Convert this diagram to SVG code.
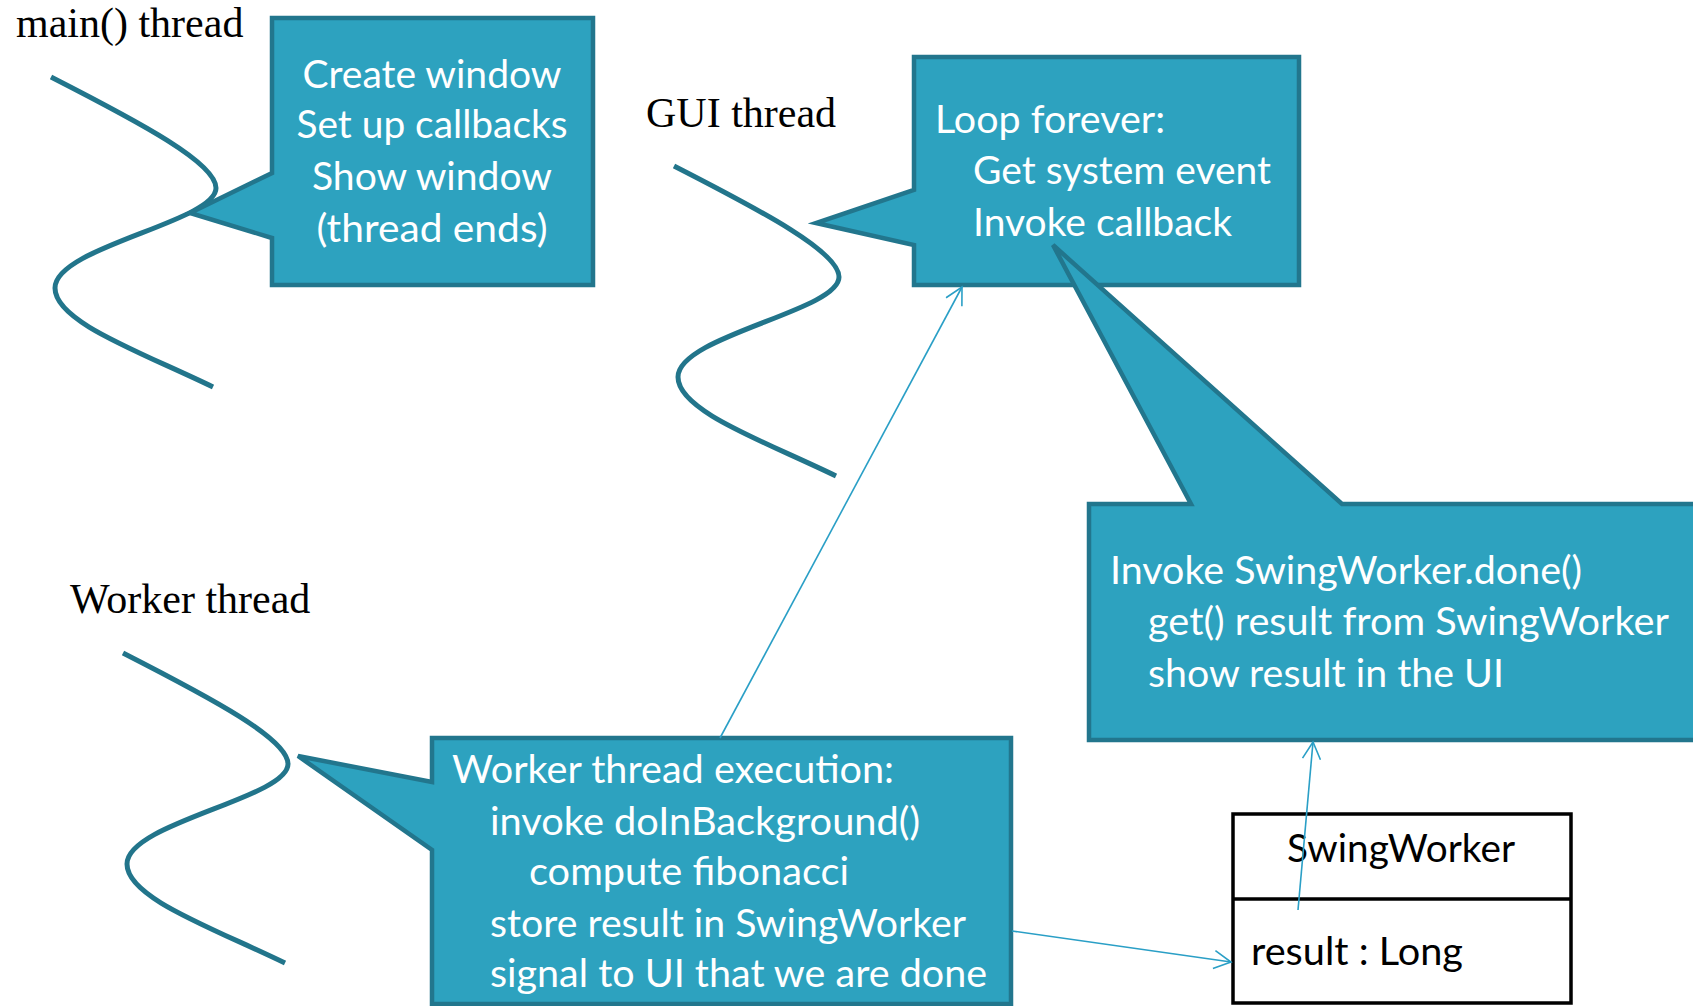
<svg xmlns="http://www.w3.org/2000/svg" width="1693" height="1006" viewBox="0 0 1693 1006">
<style>
.lbl{font-family:"Liberation Serif","Times New Roman",serif;font-size:42px;fill:#000}
.bx{fill:#2da2bf;stroke:#22768d;stroke-width:4.5;stroke-linejoin:miter}
.bt{font-family:Lato,"Noto Sans",sans-serif;font-size:39px;fill:#fff}
.ct{font-family:Lato,"Noto Sans",sans-serif;font-size:39px;fill:#000}
.thr{fill:none;stroke:#22758b;stroke-width:5}
.con{fill:none;stroke:#2a9fc6;stroke-width:1.6}
.cls{fill:#fff;stroke:#000;stroke-width:3.5}
</style>
<defs>
<path id="wave" d="M0,0 C90,46 165,86 165,111 C165,145 4,170 4,211 C4,245 90,275 162,310"/>
<marker id="open" viewBox="0 0 20 20" refX="18" refY="10" markerWidth="20" markerHeight="20" markerUnits="userSpaceOnUse" orient="auto">
<path d="M1,1 L18,10 L1,19" fill="none" stroke="#2a9fc6" stroke-width="1.6"/>
</marker>
</defs>
<rect width="1693" height="1006" fill="#fff"/>

<g id="main-thread">
<text class="lbl" x="16" y="37">main() thread</text>
<use href="#wave" class="thr" transform="translate(51,77)"/>
</g>
<g id="gui-thread">
<text class="lbl" x="646" y="127">GUI thread</text>
<use href="#wave" class="thr" transform="translate(674,166)"/>
</g>
<g id="worker-thread">
<text class="lbl" x="70" y="613">Worker thread</text>
<use href="#wave" class="thr" transform="translate(123,653)"/>
</g>

<g id="main-callout">
<path class="bx" d="M272,18 H593 V285 H272 V238 L190,213 L272,173 Z"/>
<g text-anchor="middle">
<text class="bt" x="432" y="88" textLength="259" lengthAdjust="spacingAndGlyphs">Create window</text>
<text class="bt" x="432" y="138" textLength="271" lengthAdjust="spacingAndGlyphs">Set up callbacks</text>
<text class="bt" x="432" y="190" textLength="240" lengthAdjust="spacingAndGlyphs">Show window</text>
<text class="bt" x="432" y="242" textLength="231" lengthAdjust="spacingAndGlyphs">(thread ends)</text>
</g>
</g>

<g id="gui-callout">
<path class="bx" d="M914,57 H1299 V285 H914 V245 L816,223 L914,190 Z"/>
<text class="bt" x="935" y="133" textLength="230" lengthAdjust="spacingAndGlyphs">Loop forever:</text>
<text class="bt" x="973" y="184" textLength="298" lengthAdjust="spacingAndGlyphs">Get system event</text>
<text class="bt" x="973" y="236" textLength="259" lengthAdjust="spacingAndGlyphs">Invoke callback</text>
</g>

<g id="done-callout">
<path class="bx" d="M1089,504 H1191 L1053,245 L1342,504 H1720 V740 H1089 Z"/>
<text class="bt" x="1110" y="584" textLength="472" lengthAdjust="spacingAndGlyphs">Invoke SwingWorker.done()</text>
<text class="bt" x="1148" y="635" textLength="521" lengthAdjust="spacingAndGlyphs">get() result from SwingWorker</text>
<text class="bt" x="1148" y="687" textLength="356" lengthAdjust="spacingAndGlyphs">show result in the UI</text>
</g>

<g id="worker-callout">
<path class="bx" d="M432,738 H1011 V1004 H432 V850 L298,756 L432,782 Z"/>
<text class="bt" x="452" y="783" textLength="442" lengthAdjust="spacingAndGlyphs">Worker thread execution:</text>
<text class="bt" x="490" y="835" textLength="430" lengthAdjust="spacingAndGlyphs">invoke doInBackground()</text>
<text class="bt" x="529" y="885" textLength="320" lengthAdjust="spacingAndGlyphs">compute fibonacci</text>
<text class="bt" x="490" y="937" textLength="476" lengthAdjust="spacingAndGlyphs">store result in SwingWorker</text>
<text class="bt" x="490" y="987" textLength="497" lengthAdjust="spacingAndGlyphs">signal to UI that we are done</text>
</g>

<g id="swingworker-class">
<rect class="cls" x="1233" y="814" width="338" height="189"/>
<line x1="1233" y1="899" x2="1571" y2="899" stroke="#000" stroke-width="3.5"/>
<text class="ct" x="1287" y="862" textLength="228" lengthAdjust="spacingAndGlyphs">SwingWorker</text>
<text class="ct" x="1251" y="965" textLength="212" lengthAdjust="spacingAndGlyphs">result : Long</text>
</g>

<g id="connectors">
<path class="con" d="M720,738 L962,287" marker-end="url(#open)"/>
<path class="con" d="M1012,931 L1231,962" marker-end="url(#open)"/>
<path class="con" d="M1298,910 L1313,742" marker-end="url(#open)"/>
</g>
</svg>
